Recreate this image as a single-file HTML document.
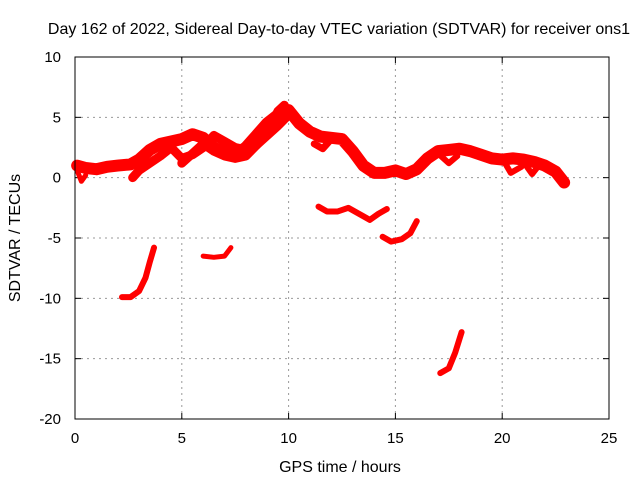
<!DOCTYPE html>
<html><head><meta charset="utf-8"><style>
body{margin:0;background:#fff}
svg{display:block;font-family:"Liberation Sans",sans-serif}
</style></head><body>
<svg id="c" width="640" height="480">
<text x="339" y="34" text-anchor="middle" font-size="16">Day 162 of 2022, Sidereal Day-to-day VTEC variation (SDTVAR) for receiver ons1</text>
<text x="340" y="472" text-anchor="middle" font-size="16">GPS time / hours</text>
<text transform="translate(20,238) rotate(-90)" text-anchor="middle" font-size="16">SDTVAR / TECUs</text>
<g id="grid"></g><g id="ticks"></g><g id="series"></g>
<rect x="75" y="57" width="534" height="362" fill="none" stroke="#000"/>
</svg>
<script>
const xTicks=[0,5,10,15,20,25];
const yTicks=[10,5,0,-5,-10,-15,-20];
const bandA=[[0.1,1],[0.5,0.8],[1,0.7],[1.5,0.9],[2,1],[2.6,1.1],[3,1.5],[3.5,2.3],[4,2.8],[4.5,3],[5,3.2],[5.5,3.6],[6,3.3],[6.5,2.5],[7,2.1],[7.5,1.9],[8,2.5],[8.5,3.5],[9,4.5],[9.5,5.2],[10,5.6],[10.5,4.5],[11,3.8],[11.5,3.4],[12,3.3],[12.5,3.2],[13,2.2],[13.5,1.0],[14,0.4],[14.5,0.4],[15,0.6],[15.5,0.3],[16,0.7],[16.5,1.6],[17,2.2],[17.5,2.3],[18,2.4],[18.5,2.2],[19,1.9],[19.5,1.6],[20,1.5],[20.5,1.6],[21,1.5],[21.5,1.3],[22,1.0],[22.5,0.5],[22.9,-0.4]];
const bandB=[[2.7,0],[3,0.6],[3.5,1.2],[4,1.8],[4.5,2.5],[5,1.6],[5.5,1.9],[6,2.5],[6.5,3.5],[7,3],[7.5,2.5],[8,2.3],[8.5,2.7],[9,3.5],[9.5,4.3],[10,5.2]];
const bandC=[[5,1.2],[5.5,2],[6,2.8],[6.5,2.2],[7,1.8],[7.5,1.6],[8,1.8],[8.5,2.7],[9,3.8],[9.5,5.5],[9.8,6.0]];
const hook1=[[11.2,2.8],[11.6,2.4],[12,3.2]];
const hook2=[[17,2],[17.5,1.2],[17.9,1.8]];
const hook3=[[20,1.6],[20.4,0.4],[20.9,0.9]];
const hook4=[[21,1.3],[21.4,0.3],[21.8,1.2]];
const hook5=[[0.1,0.6],[0.3,-0.3],[0.5,0.2]];
const seg1=[[2.2,-9.9],[2.6,-9.9],[3,-9.4],[3.3,-8.3],[3.5,-7],[3.7,-5.8]];
const seg2=[[6,-6.5],[6.5,-6.6],[7,-6.5],[7.3,-5.8]];
const seg3=[[11.4,-2.4],[11.8,-2.8],[12.3,-2.8],[12.8,-2.5],[13.5,-3.2],[13.8,-3.5],[14.2,-3],[14.6,-2.6]];
const seg4=[[14.4,-4.9],[14.8,-5.3],[15.3,-5.1],[15.7,-4.6],[16,-3.6]];
const seg5=[[17.1,-16.2],[17.5,-15.8],[17.8,-14.5],[18.1,-12.8]];
const NS="http://www.w3.org/2000/svg";
const X=v=>75+v*534/25, Y=v=>57+(10-v)*362/30;
const g=document.getElementById('grid'),t=document.getElementById('ticks'),s=document.getElementById('series');
function mk(tag,a,p){const e=document.createElementNS(NS,tag);for(const k in a)e.setAttribute(k,a[k]);p.appendChild(e);return e;}
xTicks.forEach(v=>{
 if(v>0&&v<25){const l=mk('line',{x1:X(v),x2:X(v),y1:57,y2:419,stroke:'#999','stroke-dasharray':'2,4'},g);
 
 }
 const tx=mk('text',{x:X(v),y:443,'text-anchor':'middle','font-size':'15'},t);tx.textContent=v;
 
 
 mk('line',{x1:X(v),x2:X(v),y1:419,y2:413,stroke:'#000'},t);mk('line',{x1:X(v),x2:X(v),y1:57,y2:63,stroke:'#000'},t);
});
yTicks.forEach(v=>{
 if(v>-20&&v<10){const l=mk('line',{x1:75,x2:609,y1:Y(v),y2:Y(v),stroke:'#999','stroke-dasharray':'2,4'},g);
 
 }
 const tx=mk('text',{x:61,y:Y(v)+5,'text-anchor':'end','font-size':'15'},t);tx.textContent=v;
 
 
 mk('line',{x1:75,x2:81,y1:Y(v),y2:Y(v),stroke:'#000'},t);mk('line',{x1:609,x2:603,y1:Y(v),y2:Y(v),stroke:'#000'},t);
});
function draw(d,w,name){const p=mk('polyline',{points:d.map(q=>X(q[0])+','+Y(q[1])).join(' '),fill:'none',stroke:'#f00','stroke-width':w,'stroke-linejoin':'round','stroke-linecap':'round'},s);
 
 }
draw(bandA,12,'series-main-band');draw(bandB,9,'series-band-b');draw(bandC,9,'series-band-c');
draw(hook1,7,'series-hook');draw(hook2,6,'series-hook');draw(hook3,6,'series-hook');draw(hook4,6,'series-hook');draw(hook5,5,'series-hook');
draw(seg1,6,'series-seg-1');draw(seg2,5,'series-seg-2');draw(seg3,6,'series-seg-3');draw(seg4,6,'series-seg-4');draw(seg5,6,'series-seg-5');
</script>
</body></html>
